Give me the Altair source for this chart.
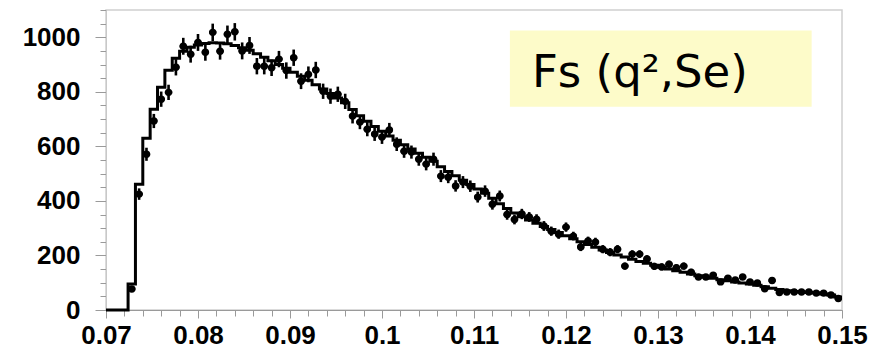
import altair as alt
import pandas as pd

# Histogram binning
BIN_START = 0.07
BIN_WIDTH = 0.0008
N_BINS = 100

# Fitted / MC histogram (step line), one value per bin
FIT = [0, 0, 0, 95, 461, 630, 736, 817, 879, 923,
       949, 963, 972, 977, 980, 979, 976, 970, 962, 952,
       940, 927, 914, 900, 886, 872, 857, 842, 826, 810,
       794, 777, 760, 735, 712, 692, 673, 655, 638, 622,
       606, 590, 575, 560, 545, 525, 508, 492, 476, 460,
       444, 428, 410, 390, 372, 356, 342, 330, 318, 306,
       295, 284, 272, 261, 250, 240, 230, 220, 211, 202,
       194, 186, 178, 171, 164, 157, 150, 144, 138, 132,
       126, 121, 116, 111, 107, 103, 99, 95, 91, 85,
       80, 75, 71, 68, 66, 64, 62, 59, 55, 48]

# Measured data points, one per bin
DATA = [0, 0, 0, 77, 425, 571, 693, 773, 798, 890,
        967, 938, 981, 945, 1018, 949, 1011, 1020, 950, 970,
        894, 894, 888, 920, 878, 925, 839, 864, 880, 802,
        784, 791, 765, 711, 689, 663, 645, 634, 660, 608,
        582, 579, 553, 535, 553, 491, 487, 455, 469, 454,
        414, 436, 388, 418, 350, 332, 352, 341, 333, 308,
        289, 278, 304, 271, 231, 253, 249, 223, 212, 223,
        161, 205, 205, 187, 160, 158, 168, 155, 161, 139,
        121, 121, 128, 103, 117, 110, 121, 103, 99, 78,
        108, 64, 66, 66, 66, 66, 62, 62, 55, 42]

# Statistical errors of the data points
ERR = [0, 0, 0, 9, 21, 24, 26, 28, 28, 30,
       31, 31, 31, 31, 32, 31, 32, 32, 31, 31,
       30, 30, 30, 30, 30, 30, 29, 29, 30, 28,
       28, 28, 28, 27, 26, 26, 25, 25, 26, 25,
       24, 24, 24, 23, 24, 22, 22, 21, 22, 21,
       20, 21, 20, 20, 19, 18, 19, 18, 18, 18,
       17, 17, 17, 16, 15, 16, 16, 15, 15, 15,
       13, 14, 14, 14, 13, 13, 13, 12, 13, 12,
       11, 11, 11, 10, 11, 10, 11, 10, 10, 9,
       10, 8, 8, 8, 8, 8, 8, 8, 7, 6]

X_TICKS = [0.07, 0.08, 0.09, 0.1, 0.11, 0.12, 0.13, 0.14, 0.15]
Y_TICKS = [0, 200, 400, 600, 800, 1000]
X_MINOR = [round(0.07 + 0.002 * i, 3) for i in range(41)]
Y_MINOR = [50 * i for i in range(23)]

LABEL_TEXT = "Fs (q\u00b2,Se)"
BOX = {"x": 0.1139, "x2": 0.1467, "y": 745, "y2": 1025}
LABEL_POS = {"x": 0.1163, "y": 819}

# ---- tables ----
edges = [BIN_START + i * BIN_WIDTH for i in range(N_BINS + 1)]
step_df = pd.DataFrame({"x": edges, "y": [FIT[min(i, N_BINS - 1)] for i in range(N_BINS + 1)]})

centers = [BIN_START + (i + 0.5) * BIN_WIDTH for i in range(N_BINS)]
pts = pd.DataFrame({
    "x": centers,
    "xlo": [c - BIN_WIDTH / 2 for c in centers],
    "xhi": [c + BIN_WIDTH / 2 for c in centers],
    "y": DATA,
    "ylo": [d - e for d, e in zip(DATA, ERR)],
    "yhi": [d + e for d, e in zip(DATA, ERR)],
})
pts = pts[pts["y"] > 0]

box_df = pd.DataFrame([BOX])
lab_df = pd.DataFrame([{**LABEL_POS, "t": LABEL_TEXT}])

xs = alt.Scale(domain=[0.07, 0.15], nice=False, zero=False)
ys = alt.Scale(domain=[0, 1100], nice=False)

GREY = "#9a9a9a"

box = alt.Chart(box_df).mark_rect(color="#fdfbc9").encode(
    x=alt.X("x:Q", scale=xs, axis=None), x2="x2:Q",
    y=alt.Y("y:Q", scale=ys, axis=None), y2="y2:Q",
)

label = alt.Chart(lab_df).mark_text(
    align="left", baseline="alphabetic", fontSize=45, font="DejaVu Sans", color="black"
).encode(
    x=alt.X("x:Q", scale=xs, axis=None),
    y=alt.Y("y:Q", scale=ys, axis=None),
    text="t:N",
)

minor = alt.Chart(step_df).mark_line(opacity=0).encode(
    x=alt.X("x:Q", scale=xs, title=None, axis=alt.Axis(
        orient="bottom", values=X_MINOR, labels=False, domain=False, grid=False,
        ticks=True, tickSize=6, tickColor=GREY)),
    y=alt.Y("y:Q", scale=ys, title=None, axis=alt.Axis(
        orient="left", values=Y_MINOR, labels=False, domain=False, grid=False,
        ticks=True, tickSize=6, tickColor=GREY)),
)

step = alt.Chart(step_df).mark_line(interpolate="step-after", color="black", strokeWidth=3).encode(
    x=alt.X("x:Q", scale=xs, title=None, axis=alt.Axis(
        orient="bottom", values=X_TICKS, format=".2~f", tickSize=8, labelPadding=4,
        domainColor=GREY, tickColor=GREY, grid=False, labelFlush=False, labelOverlap=False)),
    y=alt.Y("y:Q", scale=ys, title=None, axis=alt.Axis(
        orient="left", values=Y_TICKS, format="d", tickSize=11, labelPadding=15,
        domainColor="#c8c8c8", tickColor=GREY, grid=False, labelFlush=False, labelOverlap=False)),
)

vbar = alt.Chart(pts).mark_rule(color="black", strokeWidth=2.6).encode(
    x=alt.X("x:Q", scale=xs, axis=None),
    y=alt.Y("ylo:Q", scale=ys, axis=None), y2="yhi:Q",
)
hbar = alt.Chart(pts).mark_rule(color="black", strokeWidth=2.6).encode(
    x=alt.X("xlo:Q", scale=xs, axis=None), x2="xhi:Q",
    y=alt.Y("y:Q", scale=ys, axis=None),
)
dots = alt.Chart(pts).mark_circle(color="black", opacity=1, size=55).encode(
    x=alt.X("x:Q", scale=xs, axis=None),
    y=alt.Y("y:Q", scale=ys, axis=None),
)

chart = alt.layer(box, label, minor, step, vbar, hbar, dots).resolve_axis(
    x="independent", y="independent"
).properties(
    width=736, height=300,
    autosize=alt.AutoSizeParams(type="none"),
    padding={"left": 106, "top": 10, "right": 41, "bottom": 44},
    background="white",
).configure_view(
    stroke="#d0d0d0", strokeWidth=1.5
).configure_axis(
    labelFont="Liberation Sans", labelFontWeight="bold", labelFontSize=26, labelColor="black",
)

chart.save("out.html", embed_options={"renderer": "svg", "actions": False})
